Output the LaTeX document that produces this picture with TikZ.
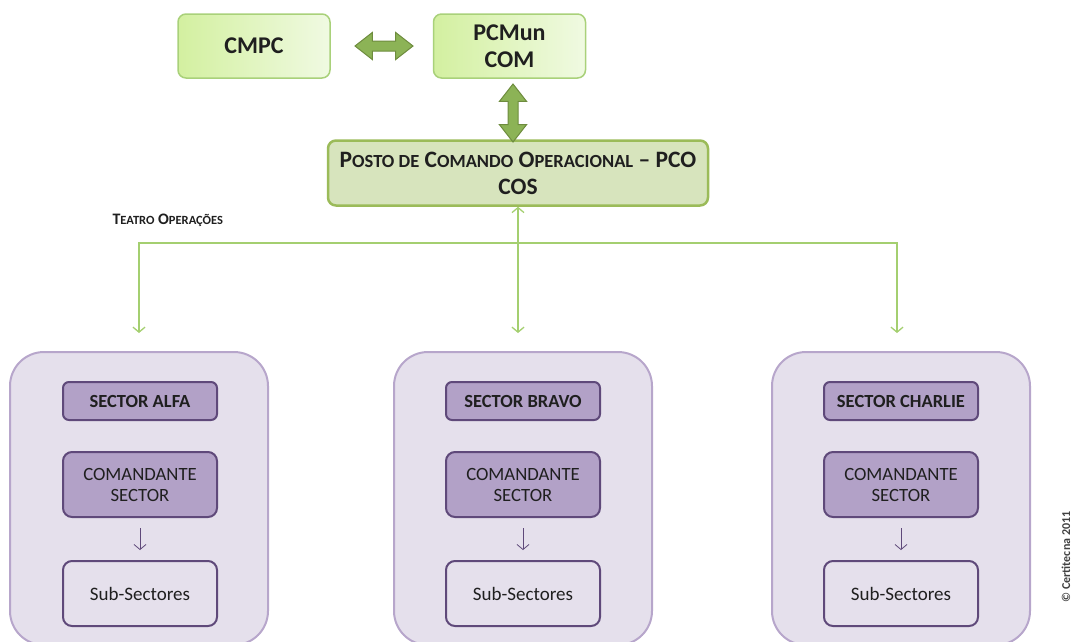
\documentclass[tikz,border=0pt]{standalone}
\usepackage{fontspec}
\setmainfont{Carlito}
\usetikzlibrary{positioning,shapes.arrows,arrows.meta}

\definecolor{topleft}{HTML}{D3F0A0}
\definecolor{topright}{HTML}{F0FAE2}
\definecolor{topedge}{HTML}{A9D17A}
\definecolor{pcofill}{HTML}{D7E4BD}
\definecolor{pcoedge}{HTML}{9BBB59}
\definecolor{fatfill}{HTML}{8CB356}
\definecolor{fatedge}{HTML}{6E8C3E}
\definecolor{treegreen}{HTML}{A4CF70}
\definecolor{outerfill}{HTML}{E5E0EC}
\definecolor{outeredge}{HTML}{B7A6CB}
\definecolor{headfill}{HTML}{B2A1C7}
\definecolor{headedge}{HTML}{5F497A}
\definecolor{inktext}{HTML}{1F1F1F}

\newcommand{\smcap}[1]{{\fontsize{18.5}{22}\selectfont #1}}
\newcommand{\smcapT}[1]{{\fontsize{12.5}{15}\selectfont #1}}

\begin{document}
\begin{tikzpicture}[
  x=1pt,y=1pt,
  every node/.style={text=inktext},
  topbox/.style={draw=topedge,line width=1.5pt,rounded corners=8pt,
    left color=topleft,right color=topright,
    minimum width=152pt,minimum height=64pt,align=center,
    font=\fontsize{24}{27}\selectfont\bfseries},
  pcobox/.style={draw=pcoedge,fill=pcofill,line width=2.5pt,rounded corners=8pt,
    minimum width=380pt,minimum height=65pt,align=center,
    font=\fontsize{23.5}{27}\selectfont\bfseries},
  fatarrow/.style={double arrow,draw=fatedge,fill=fatfill,line width=1pt,
    minimum height=58pt,inner xsep=0pt,inner ysep=4.5pt,
    double arrow head extend=8.5pt,double arrow tip angle=76},
  outerbox/.style={draw=outeredge,fill=outerfill,line width=2pt,rounded corners=34pt,
    minimum width=258pt,minimum height=293pt},
  headbox/.style={draw=headedge,fill=headfill,line width=2pt,rounded corners=6pt,
    minimum width=154pt,minimum height=38pt,
    font=\fontsize{18.5}{21}\selectfont\bfseries},
  cmdbox/.style={draw=headedge,fill=headfill,line width=2pt,rounded corners=9pt,
    minimum width=154pt,minimum height=65pt,align=center,
    font=\fontsize{18.7}{21}\selectfont},
  subbox/.style={draw=headedge,fill=outerfill,line width=2pt,rounded corners=9pt,
    minimum width=154pt,minimum height=65pt,
    font=\fontsize{19}{21}\selectfont},
  tree/.style={draw=treegreen,line width=1.3pt,
    >={Straight Barb[length=5pt,width=12pt]}},
  subarrow/.style={draw=headedge,line width=0.8pt,shorten <=10pt,shorten >=10pt,
    >={Straight Barb[length=5pt,width=12pt]}},
  ]
  \clip (0,0) rectangle (1072,-641);

  \node[topbox] (cmpc) at (254,-46) {CMPC};
  \node[topbox,right=102pt of cmpc] (pcmun) {PCMun\\COM};
  \node[pcobox] (pco) at (518,-173)
    {P\smcap{OSTO DE} C\smcap{OMANDO} O\smcap{PERACIONAL} -- PCO\\COS};
  \node[fatarrow] (linkH) at (384,-46) {};
  \node[fatarrow,rotate=90] (linkV) at (513,-113) {};

  \node[anchor=west,font=\fontsize{16}{18}\selectfont\bfseries] (teatro) at (109,-220)
    {T\smcapT{EATRO} O\smcapT{PERAÇÕES}};

  \node[outerbox,anchor=north] (outA) at (139,-351) {};
  \node[outerbox,anchor=north] (outB) at (523,-351) {};
  \node[outerbox,anchor=north] (outC) at (901,-351) {};

  \node[headbox] (headA) at (140,-401) {SECTOR ALFA};
  \node[cmdbox,below=30pt of headA] (cmdA) {COMANDANTE\\SECTOR};
  \node[subbox,below=42pt of cmdA] (subA) {Sub-Sectores};

  \node[headbox] (headB) at (523,-401) {SECTOR BRAVO};
  \node[cmdbox,below=30pt of headB] (cmdB) {COMANDANTE\\SECTOR};
  \node[subbox,below=42pt of cmdB] (subB) {Sub-Sectores};

  \node[headbox] (headC) at (901,-401) {SECTOR CHARLIE};
  \node[cmdbox,below=30pt of headC] (cmdC) {COMANDANTE\\SECTOR};
  \node[subbox,below=42pt of cmdC] (subC) {Sub-Sectores};

  \coordinate (fork) at (pco.south |- 0,-243);
  \path[tree,<->] (pco.south) -- ([yshift=18pt]pco.south |- outB.north);
  \path[tree,->] (fork) -| ([yshift=18pt]outA.north);
  \path[tree,->] (fork) -| ([xshift=-4pt,yshift=18pt]outC.north);

  \path[subarrow,->] (cmdA) -- (subA);
  \path[subarrow,->] (cmdB) -- (subB);
  \path[subarrow,->] (cmdC) -- (subC);

  \node[rotate=90,font=\fontsize{12}{14}\selectfont\bfseries,text=black!75] (copyr)
    at (1066,-557) {© Certitecna 2011};
\end{tikzpicture}
\end{document}
